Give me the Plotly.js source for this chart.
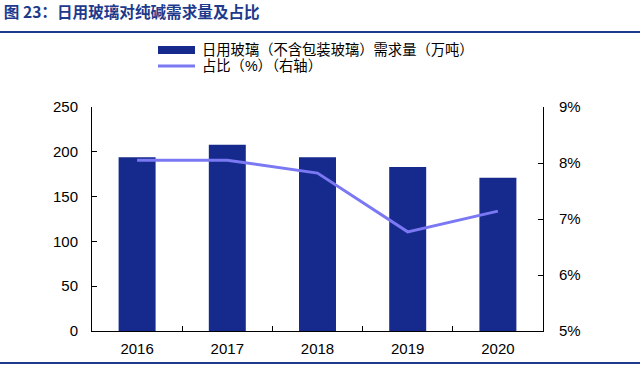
<!DOCTYPE html>
<html>
<head>
<meta charset="utf-8">
<script src="https://cdn.plot.ly/plotly-3.0.1.min.js"></script>
<style>html,body{margin:0;padding:0;background:#fff;}#chart{width:640px;height:368px;}</style>
</head>
<body>
<div id="chart"></div>
<script>
const years = ['2016', '2017', '2018', '2019', '2020'];
const demand = [194, 208, 194, 183, 171];
const share = [0.0805, 0.0805, 0.0782, 0.0677, 0.0714];
const barName = '日用玻璃（不含包装玻璃）需求量（万吨）';
const lineName = '占比（%）（右轴）';
const titleText = '图 23：日用玻璃对纯碱需求量及占比';

const barColor = '#16298C';
const lineColor = '#7A78F2';
const titleColor = '#1E3A8C';
const font = 'Liberation Sans, Arial, Noto Sans CJK SC, sans-serif';

const traces = [
  {type: 'bar', x: years, y: demand, name: barName, marker: {color: barColor}, width: 0.41, yaxis: 'y', hoverinfo: 'skip'},
  {type: 'scatter', mode: 'lines', x: years, y: share, name: lineName, yaxis: 'y2', line: {color: lineColor, width: 3}, hoverinfo: 'skip'}
];

const layout = {
  width: 640, height: 368,
  margin: {l: 92, r: 97, t: 107, b: 37},
  paper_bgcolor: '#fff', plot_bgcolor: '#fff',
  showlegend: false,
  font: {family: font, size: 15, color: '#000'},
  title: {text: '<b>' + titleText + '</b>', font: {family: 'Noto Sans CJK SC, sans-serif', size: 15.6, color: titleColor}, x: 0.006, xanchor: 'left', y: 0.965, yanchor: 'middle'},
  xaxis: {type: 'category', showline: true, linecolor: '#000', linewidth: 1, ticks: 'inside', tickson: 'boundaries', ticklen: 5, tickcolor: '#000', showgrid: false, zeroline: false, tickfont: {size: 15}, ticklabelstandoff: 4},
  yaxis: {range: [0, 250], dtick: 50, showline: true, linecolor: '#000', ticks: 'inside', ticklen: 5, tickcolor: '#000', showgrid: false, zeroline: false, tickfont: {size: 15}, ticklabelstandoff: 10},
  yaxis2: {range: [0.05, 0.09], dtick: 0.01, tickformat: '.0%', overlaying: 'y', side: 'right', showline: true, linecolor: '#000', ticks: 'inside', ticklen: 5, tickcolor: '#000', showgrid: false, zeroline: false, tickfont: {size: 15}, ticklabelstandoff: 12},
  shapes: [
    {type: 'line', xref: 'paper', yref: 'paper', x0: -92/451, x1: 548/451, y0: (331-32)/224, y1: (331-32)/224, line: {color: titleColor, width: 2}},
    {type: 'line', xref: 'paper', yref: 'paper', x0: -92/451, x1: 548/451, y0: (331-363)/224, y1: (331-363)/224, line: {color: titleColor, width: 2}},
    {type: 'rect', xref: 'paper', yref: 'paper', x0: (158-92)/451, x1: (195-92)/451, y0: (331-54)/224, y1: (331-46)/224, fillcolor: barColor, line: {width: 0}},
    {type: 'line', xref: 'paper', yref: 'paper', x0: (158-92)/451, x1: (195-92)/451, y0: (331-66)/224, y1: (331-66)/224, line: {color: lineColor, width: 3}}
  ],
  annotations: [
    {xref: 'paper', yref: 'paper', x: (200-92)/451, y: (331-50)/224, xanchor: 'left', yanchor: 'middle', text: barName, showarrow: false, font: {family: font, size: 14.3, color: '#000'}},
    {xref: 'paper', yref: 'paper', x: (200-92)/451, y: (331-66)/224, xanchor: 'left', yanchor: 'middle', text: lineName, showarrow: false, font: {family: font, size: 14.3, color: '#000'}}
  ]
};

Plotly.newPlot('chart', traces, layout, {staticPlot: true, displayModeBar: false});
</script>
</body>
</html>
